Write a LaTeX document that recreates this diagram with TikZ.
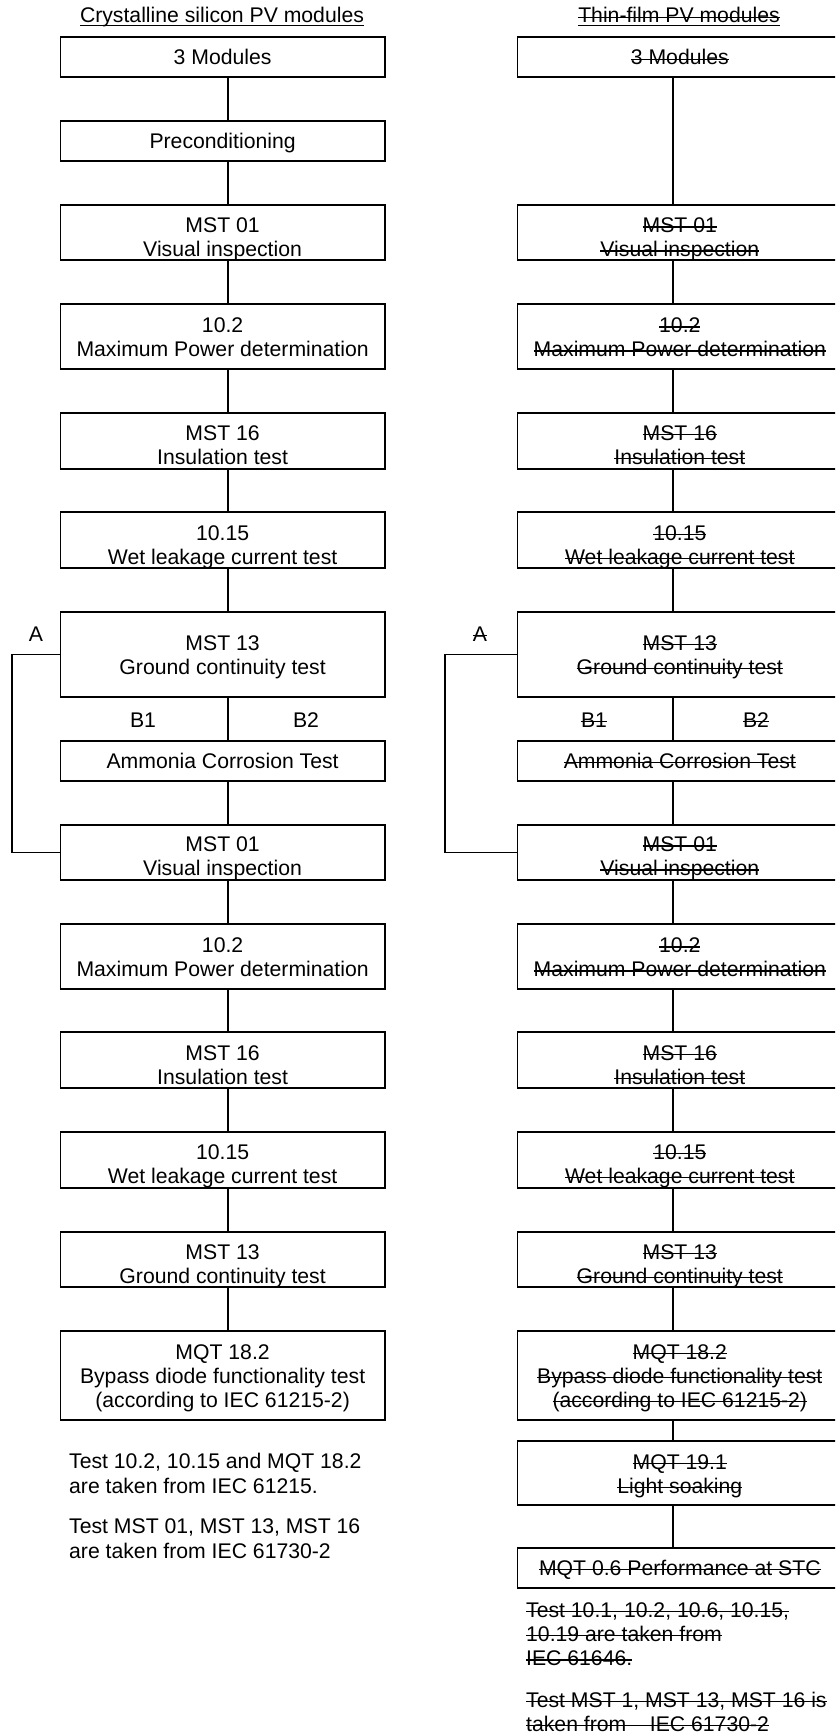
\documentclass[tikz,border=0pt]{standalone}
\usepackage{fontspec}
\setmainfont{Liberation Sans}
\newcommand{\strk}[1]{\leavevmode\setbox0=\hbox{#1}\rlap{\rule[0.243em]{\wd0}{1.1pt}}\box0}
\newcommand{\myfs}{\fontsize{21.2pt}{24pt}\selectfont}
\newcommand{\bt}[1]{\begin{tabular}[b]{@{}c@{}}#1\end{tabular}}
\newcommand{\nt}[1]{\begin{tabular}[t]{@{}l@{}}#1\end{tabular}}
\tikzset{
  stepbox/.style 2 args={draw, line width=1.7pt, rectangle, inner sep=0pt, anchor=north west,
    minimum width=324.5pt, minimum height=#1, text height=#2, text depth=0pt, font=\myfs},
  conn/.style={line width=1.8pt},
  lbl/.style={inner sep=0pt, anchor=base, font=\myfs},
  notes/.style={inner sep=0pt, anchor=base west},
}
\begin{document}
\begin{tikzpicture}[x=1pt,y=-1pt]
\path[use as bounding box] (0,0) rectangle (835,1736);
\clip (0,0) rectangle (835,1736);
\coordinate (lx) at (228,0);
\coordinate (rx) at (673.2,0);
\coordinate (la) at (12,0);
\coordinate (ra) at (445,0);

% ---------------- Left column ----------------
\node[lbl] (tl) at (222,23) {Crystalline silicon PV modules};
\draw[line width=1.2pt] ([yshift=-2.5pt]tl.base west) -- ([yshift=-2.5pt]tl.base east);

\node[stepbox={40.3pt}{16pt}]   (b1)  at (59.5,36)   {\bt{3 Modules}};
\node[stepbox={40.3pt}{16pt}]   (b2)  at (59.5,120)  {\bt{Preconditioning}};
\node[stepbox={55.3pt}{48.4pt}] (b3)  at (59.5,204)  {\bt{MST 01\\Visual inspection}};
\node[stepbox={65.3pt}{40.4pt}] (b4)  at (59.5,303)  {\bt{10.2\\Maximum Power determination}};
\node[stepbox={56.3pt}{46.6pt}] (b5)  at (59.5,412)  {\bt{MST 16\\Insulation test}};
\node[stepbox={56.3pt}{48pt}]   (b6)  at (59.5,511)  {\bt{10.15\\Wet leakage current test}};
\node[stepbox={85.3pt}{39.6pt}] (b7)  at (59.5,611)  {\bt{MST 13\\Ground continuity test}};
\node[stepbox={40.3pt}{14.6pt}] (b8)  at (59.5,740)  {\bt{Ammonia Corrosion Test}};
\node[stepbox={55.3pt}{46.4pt}] (b9)  at (59.5,824)  {\bt{MST 01\\Visual inspection}};
\node[stepbox={65.3pt}{40.4pt}] (b10) at (59.5,923)  {\bt{10.2\\Maximum Power determination}};
\node[stepbox={56.3pt}{48pt}]   (b11) at (59.5,1031) {\bt{MST 16\\Insulation test}};
\node[stepbox={56.3pt}{46.6pt}] (b12) at (59.5,1131) {\bt{10.15\\Wet leakage current test}};
\node[stepbox={55.3pt}{47.6pt}] (b13) at (59.5,1231) {\bt{MST 13\\Ground continuity test}};
\node[stepbox={89.3pt}{63.6pt}] (b14) at (59.5,1330) {\bt{MQT 18.2\\Bypass diode functionality test\\(according to IEC 61215-2)}};

\foreach \a/\b in {b1/b2,b2/b3,b3/b4,b4/b5,b5/b6,b6/b7,b7/b8,b8/b9,b9/b10,b10/b11,b11/b12,b12/b13,b13/b14}
  \draw[conn] (\a.south -| lx) -- (\b.north -| lx);
\draw[conn] (b7.west) -- (b7.west -| la) |- (b9.west);

\node[lbl] (al) at (36,641) {A};
\node[lbl] (b1l) at (143,727) {B1};
\node[lbl] (b2l) at (306,727) {B2};

\node[notes, font=\fontsize{21.2pt}{25pt}\selectfont] (n1) at (69,1468.3) {\nt{Test 10.2, 10.15 and MQT 18.2\\are taken from IEC 61215.}};
\node[notes, font=\fontsize{21.2pt}{25pt}\selectfont] (n2) at (69,1533.3) {\nt{Test MST 01, MST 13, MST 16\\are taken from IEC 61730-2}};

% ---------------- Right column ----------------
\node[lbl] (tr) at (679,23) {\strk{Thin-film PV modules}};
\draw[line width=1.2pt] ([yshift=-2.5pt]tr.base west) -- ([yshift=-2.5pt]tr.base east);

\node[stepbox={40.3pt}{16pt}]   (r1)  at (516.7,36)   {\bt{\strk{3 Modules}}};
\node[stepbox={55.3pt}{48.4pt}] (r3)  at (516.7,204)  {\bt{\strk{MST 01}\\\strk{Visual inspection}}};
\node[stepbox={65.3pt}{40.4pt}] (r4)  at (516.7,303)  {\bt{\strk{10.2}\\\strk{Maximum Power determination}}};
\node[stepbox={56.3pt}{46.6pt}] (r5)  at (516.7,412)  {\bt{\strk{MST 16}\\\strk{Insulation test}}};
\node[stepbox={56.3pt}{48pt}]   (r6)  at (516.7,511)  {\bt{\strk{10.15}\\\strk{Wet leakage current test}}};
\node[stepbox={85.3pt}{39.6pt}] (r7)  at (516.7,611)  {\bt{\strk{MST 13}\\\strk{Ground continuity test}}};
\node[stepbox={40.3pt}{14.6pt}] (r8)  at (516.7,740)  {\bt{\strk{Ammonia Corrosion Test}}};
\node[stepbox={55.3pt}{46.4pt}] (r9)  at (516.7,824)  {\bt{\strk{MST 01}\\\strk{Visual inspection}}};
\node[stepbox={65.3pt}{40.4pt}] (r10) at (516.7,923)  {\bt{\strk{10.2}\\\strk{Maximum Power determination}}};
\node[stepbox={56.3pt}{48pt}]   (r11) at (516.7,1031) {\bt{\strk{MST 16}\\\strk{Insulation test}}};
\node[stepbox={56.3pt}{46.6pt}] (r12) at (516.7,1131) {\bt{\strk{10.15}\\\strk{Wet leakage current test}}};
\node[stepbox={55.3pt}{47.6pt}] (r13) at (516.7,1231) {\bt{\strk{MST 13}\\\strk{Ground continuity test}}};
\node[stepbox={89.3pt}{63.6pt}] (r14) at (516.7,1330) {\bt{\strk{MQT 18.2}\\\strk{Bypass diode functionality test}\\\strk{(according to IEC 61215-2)}}};
\node[stepbox={64.3pt}{40.6pt}] (r15) at (516.7,1440) {\bt{\strk{MQT 19.1}\\\strk{Light soaking}}};
\node[stepbox={40.3pt}{14pt}]   (r16) at (516.7,1547) {\bt{\strk{MQT 0.6 Performance at STC}}};

\foreach \a/\b in {r1/r3,r3/r4,r4/r5,r5/r6,r6/r7,r7/r8,r8/r9,r9/r10,r10/r11,r11/r12,r12/r13,r13/r14,r14/r15,r15/r16}
  \draw[conn] (\a.south -| rx) -- (\b.north -| rx);
\draw[conn] (r7.west) -- (r7.west -| ra) |- (r9.west);

\node[lbl] (ar) at (480,641) {\strk{A}};
\node[lbl] (b1r) at (594,727) {\strk{B1}};
\node[lbl] (b2r) at (756,727) {\strk{B2}};

\node[notes, font=\fontsize{21.2pt}{24.2pt}\selectfont] (n3) at (526,1617.3) {\nt{\strk{Test 10.1, 10.2, 10.6, 10.15,}\\\strk{10.19 are taken from}\\\strk{IEC 61646.}}};
\node[notes, font=\fontsize{21.2pt}{24.2pt}\selectfont] (n4) at (526,1707.3) {\nt{\strk{Test MST 1, MST 13, MST 16 is}\\\strk{taken from\ \ \ \ IEC 61730-2}}};
\end{tikzpicture}
\end{document}
